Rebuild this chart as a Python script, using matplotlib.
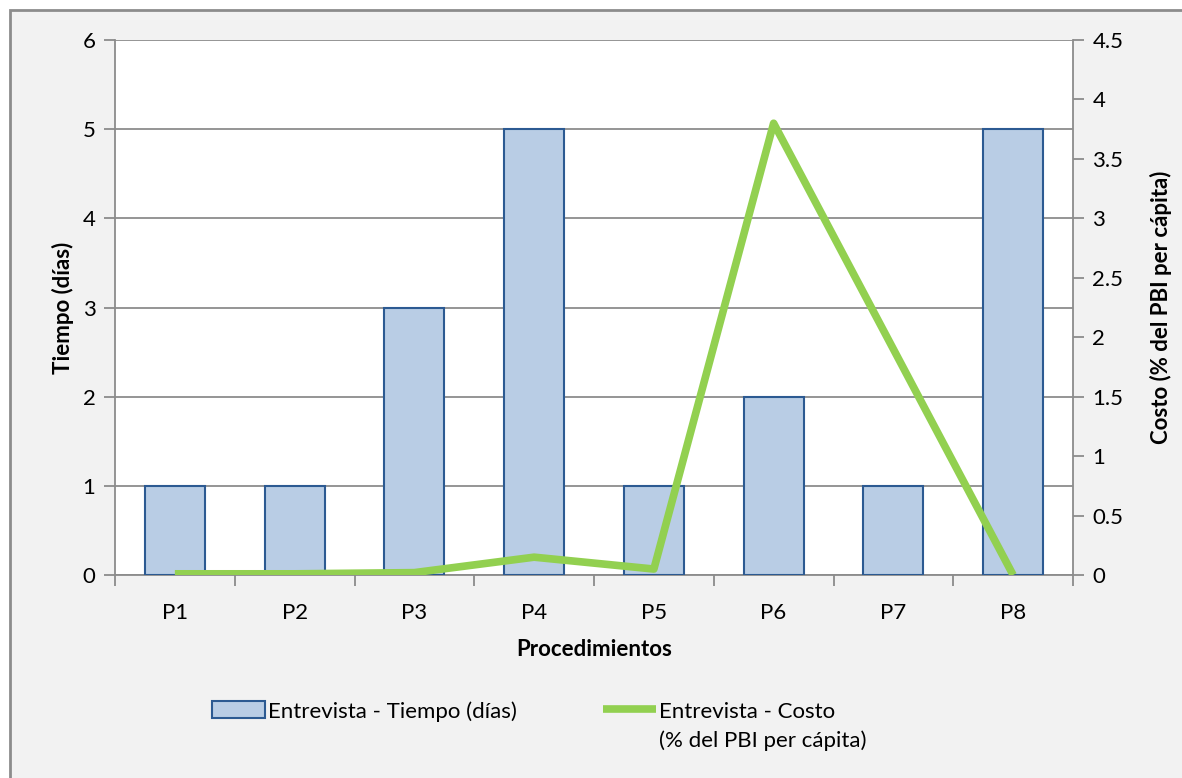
import matplotlib
matplotlib.use("Agg")
import matplotlib.pyplot as plt
from matplotlib.patches import Rectangle
import numpy as np

# data
procedimientos = ["P1", "P2", "P3", "P4", "P5", "P6", "P7", "P8"]
tiempo_dias = [1, 1, 3, 5, 1, 2, 1, 5]
costo_pbi = [0.01, 0.01, 0.02, 0.15, 0.05, 3.8, 1.9, 0.0]

left_ticks = [0, 1, 2, 3, 4, 5, 6]
right_ticks = [0, 0.5, 1, 1.5, 2, 2.5, 3, 3.5, 4, 4.5]
right_ticklabels = ["0", "0.5", "1", "1.5", "2", "2.5", "3", "3.5", "4", "4.5"]

plt.rcParams["font.family"] = ["Lato", "DejaVu Sans"]
plt.rcParams["font.size"] = 16

bar_fill = "#b9cde5"
bar_edge = "#2c5a92"
line_color = "#92d050"
grid_color = "#8c8c8c"

fig = plt.figure(figsize=(11.82, 7.78), dpi=100)
fig.patch.set_facecolor("white")

# grey chart-area frame like the Excel chart
fig.add_artist(Rectangle((10 / 1182, -0.05), 1.1, 1 - 10 / 778 + 0.05,
                         transform=fig.transFigure, facecolor="#f2f2f2",
                         edgecolor="#8c8c8c", linewidth=2, zorder=0))

ax = fig.add_axes([115 / 1182, 1 - 575 / 778, 958 / 1182, 535 / 778])
ax.set_facecolor("white")
x = np.arange(len(procedimientos))

bars = ax.bar(x, tiempo_dias, width=0.5, color=bar_fill, edgecolor=bar_edge,
              linewidth=1.5, zorder=3, label="Entrevista - Tiempo (días)")

ax.set_xlim(-0.5, len(procedimientos) - 0.5)
ax.set_ylim(0, 6)
ax.set_yticks(left_ticks)
ax.yaxis.grid(True, color=grid_color, linewidth=1.3)
ax.set_axisbelow(True)

# ticks between categories, labels centred
ax.set_xticks(np.arange(len(procedimientos) + 1) - 0.5)
ax.set_xticklabels([])
ax.set_xticks(x, minor=True)
ax.set_xticklabels(procedimientos, minor=True)
ax.tick_params(axis="x", which="major", direction="out", length=8, color=grid_color, width=1.3)
ax.tick_params(axis="x", which="minor", length=0, pad=20)
ax.tick_params(axis="y", direction="out", length=8, color=grid_color, width=1.3, pad=6)

for side in ["left", "bottom", "right"]:
    ax.spines[side].set_color(grid_color)
    ax.spines[side].set_linewidth(1.3)
ax.spines["top"].set_visible(False)

ax.set_xlabel("Procedimientos", fontweight="bold", labelpad=12)
ax.set_ylabel("Tiempo (días)", fontweight="bold", labelpad=6)

ax2 = ax.twinx()
line, = ax2.plot(x, costo_pbi, color=line_color, linewidth=5.5,
                 solid_joinstyle="round", solid_capstyle="butt", zorder=4,
                 label="Entrevista - Costo")
ax2.set_ylim(0, 4.5)
ax2.set_yticks(right_ticks)
ax2.set_yticklabels(right_ticklabels)
ax2.tick_params(axis="y", direction="out", length=8, color=grid_color, width=1.3, pad=6)
for side in ["left", "bottom", "right", "top"]:
    ax2.spines[side].set_visible(False)
ax2.set_ylabel("Costo (% del PBI per cápita)", fontweight="bold", labelpad=19)

leg = fig.legend(handles=[bars, line], loc="upper left",
                 bbox_to_anchor=(192 / 1182, 1 - 681 / 778), ncol=2,
                 frameon=False, handlelength=2.4, handleheight=0.8,
                 handletextpad=0.1, columnspacing=3.9, fontsize=16)
# second line of the cost label, hung under the legend text
cost_text = leg.get_texts()[1]
extra = matplotlib.text.Annotation("(% del PBI per cápita)", xy=(0, 0), xycoords=cost_text,
                                   xytext=(0, -6), textcoords="offset points",
                                   va="top", ha="left", fontsize=16, zorder=10)
fig.add_artist(extra)

fig.savefig("out.png", dpi=100, facecolor=fig.get_facecolor())
